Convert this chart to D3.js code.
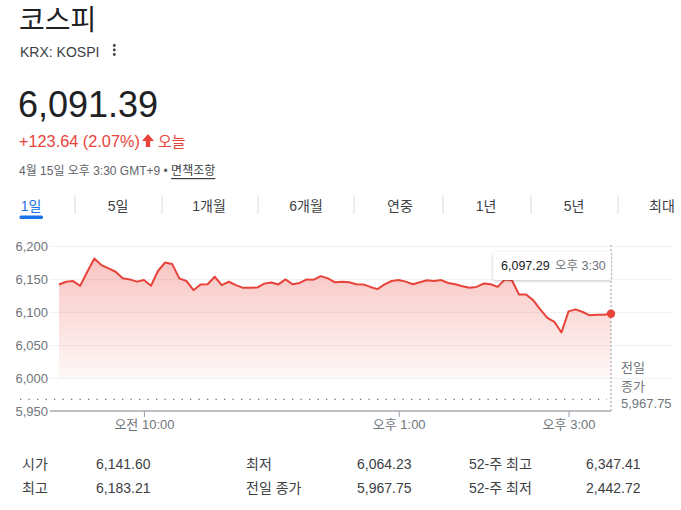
<!DOCTYPE html>
<html>
<head>
<meta charset="utf-8">
<script src="https://cdn.jsdelivr.net/npm/d3@7"></script>
<style>
  body { margin: 0; background: #fff; }
  svg text { font-family: "Liberation Sans", Arial, "Noto Sans CJK KR", sans-serif; }
</style>
</head>
<body>
<script>
// intraday points, every 5 minutes from 9:00 to 15:30
var times = ["09:00","09:05","09:10","09:15","09:20","09:25","09:30","09:35","09:40","09:45","09:50","09:55",
  "10:00","10:05","10:10","10:15","10:20","10:25","10:30","10:35","10:40","10:45","10:50","10:55",
  "11:00","11:05","11:10","11:15","11:20","11:25","11:30","11:35","11:40","11:45","11:50","11:55",
  "12:00","12:05","12:10","12:15","12:20","12:25","12:30","12:35","12:40","12:45","12:50","12:55",
  "13:00","13:05","13:10","13:15","13:20","13:25","13:30","13:35","13:40","13:45","13:50","13:55",
  "14:00","14:05","14:10","14:15","14:20","14:25","14:30","14:35","14:40","14:45","14:50","14:55",
  "15:00","15:05","15:10","15:15","15:20","15:25","15:30"];
var prices = [6141.6, 6145.8, 6146.8, 6139.7, 6161, 6181, 6171, 6166, 6161, 6151, 6149.4, 6146,
  6148.4, 6139.7, 6162.5, 6175, 6172.6, 6151, 6147, 6133, 6141.8, 6142, 6153.4, 6140.7,
  6145.8, 6140.7, 6136.6, 6136.6, 6137, 6143, 6144.8, 6141.8, 6149.4, 6142, 6144, 6149.4,
  6149, 6154.4, 6151, 6145, 6146, 6145, 6142, 6141.8, 6138, 6134.7, 6141.8, 6147,
  6148.4, 6146, 6142, 6145, 6148, 6147, 6148.4, 6144, 6142, 6139, 6136.6, 6138,
  6143, 6142, 6138, 6149.4, 6148, 6126.6, 6126.6, 6118, 6104, 6091, 6085, 6069,
  6101, 6104, 6100, 6095, 6096, 6096, 6097.29];

var yTicks = [5950, 6000, 6050, 6100, 6150, 6200];
var xTicks = ["10:00", "13:00", "15:00"];
var xTickLabels = ["오전 10:00", "오후 1:00", "오후 3:00"];
var prevClose = 5967.75;

var tabs = ["1일", "5일", "1개월", "6개월", "연중", "1년", "5년", "최대"];
var statLabels = [["시가", "최고"], ["최저", "전일 종가"], ["52-주 최고", "52-주 최저"]];
var statValues = [["6,141.60", "6,183.21"], ["6,064.23", "5,967.75"], ["6,347.41", "2,442.72"]];

var red = "#e8433a";
var parseTime = d3.timeParse("%H:%M");
var data = times.map(function(t, i) { return {t: parseTime(t), v: prices[i]}; });

var svg = d3.select("body").append("svg")
    .attr("width", 681)
    .attr("height", 510);

var defs = svg.append("defs");
var grad = defs.append("linearGradient")
    .attr("id", "fillGrad")
    .attr("gradientUnits", "userSpaceOnUse")
    .attr("x1", 0).attr("x2", 0)
    .attr("y1", 255).attr("y2", 395);
grad.append("stop").attr("offset", 0).attr("stop-color", red).attr("stop-opacity", 0.32);
grad.append("stop").attr("offset", 1).attr("stop-color", red).attr("stop-opacity", 0);

var shadow = defs.append("filter").attr("id", "shadow")
    .attr("x", -0.2).attr("y", -0.3).attr("width", 1.4).attr("height", 1.7);
shadow.append("feDropShadow").attr("dx", 0).attr("dy", 1).attr("stdDeviation", 1.5)
    .attr("flood-color", "#000").attr("flood-opacity", 0.25);

// Header
svg.append("text").attr("x", 19).attr("y", 20).attr("dominant-baseline", "central")
    .attr("font-size", 28).attr("fill", "#202124").text("코스피");
svg.append("text").attr("x", 20).attr("y", 52).attr("dominant-baseline", "central")
    .attr("font-size", 14).attr("fill", "#3c4043").text("KRX: KOSPI");
svg.selectAll(".menuDot").data([45.5, 50, 54.5]).enter().append("circle")
    .attr("cx", 114.3).attr("cy", function(d) { return d; }).attr("r", 1.4).attr("fill", "#3c4043");

svg.append("text").attr("x", 18).attr("y", 104).attr("dominant-baseline", "central")
    .attr("font-size", 36).attr("fill", "#202124").text("6,091.39");

svg.append("text").attr("x", 19).attr("y", 141).attr("dominant-baseline", "central")
    .attr("font-size", 16.3).attr("fill", red).text("+123.64 (2.07%)");
svg.append("path")
    .attr("d", "M148,134 L154,141 L150.2,141 L150.2,147 L145.8,147 L145.8,141 L142,141 Z")
    .attr("fill", red);
svg.append("text").attr("x", 158).attr("y", 141).attr("dominant-baseline", "central")
    .attr("font-size", 15).attr("fill", red).text("오늘");

var dateLine = svg.append("text").attr("x", 19).attr("y", 171).attr("dominant-baseline", "central")
    .attr("font-size", 12).attr("fill", "#5f6368");
dateLine.append("tspan").text("4월 15일 오후 3:30 GMT+9 • ");
dateLine.append("tspan").attr("text-decoration", "underline").attr("fill", "#3c4043").text("면책조항");

// Tabs
var tabCenters = [31, 118, 209, 306, 400, 486, 574, 662];
var tabSeps = [75, 162, 258, 354, 443, 531, 618];
svg.selectAll(".tab").data(tabs).enter().append("text")
    .attr("class", "tab")
    .attr("x", function(d, i) { return tabCenters[i]; })
    .attr("y", 206).attr("dominant-baseline", "central")
    .attr("text-anchor", "middle").attr("font-size", 14)
    .attr("fill", function(d, i) { return i === 0 ? "#1a73e8" : "#3c4043"; })
    .text(function(d) { return d; });
svg.selectAll(".tabSep").data(tabSeps).enter().append("line")
    .attr("x1", function(d) { return d; }).attr("x2", function(d) { return d; })
    .attr("y1", 195).attr("y2", 214)
    .attr("stroke", "#dadce0").attr("stroke-width", 1);
svg.append("rect").attr("x", 19.5).attr("y", 215.5).attr("width", 23.5).attr("height", 3.5)
    .attr("rx", 1.5).attr("fill", "#1a73e8");

// Chart scales
var x = d3.scaleTime()
    .domain([parseTime("09:00"), parseTime("15:30")])
    .range([59, 611]);
var y = d3.scaleLinear()
    .domain([5950, 6200])
    .range([411, 246]);

// Gridlines + y labels
var yAxis = d3.axisLeft(y)
    .tickValues(yTicks)
    .tickFormat(d3.format(","))
    .tickSize(-622)
    .tickPadding(2);
var gy = svg.append("g").attr("transform", "translate(50,0)").call(yAxis);
gy.select(".domain").remove();
gy.selectAll(".tick line").attr("stroke", "#f1f1f1");
gy.selectAll(".tick text").attr("font-size", 13).attr("fill", "#70757a")
    .attr("font-family", "'Liberation Sans', Arial, sans-serif");
gy.selectAll(".tick").filter(function(d) { return d === 5950; }).select("line").remove();

// Area + line
var area = d3.area()
    .x(function(d) { return x(d.t); })
    .y0(y(6000))
    .y1(function(d) { return y(d.v); });
svg.append("path").datum(data).attr("d", area).attr("fill", "url(#fillGrad)");

// previous close dotted line
svg.append("line")
    .attr("x1", 20).attr("x2", 607)
    .attr("y1", y(prevClose)).attr("y2", y(prevClose))
    .attr("stroke", "#70757a").attr("stroke-width", 1.2)
    .attr("stroke-dasharray", "1.3,7.2");

var line = d3.line()
    .x(function(d) { return x(d.t); })
    .y(function(d) { return y(d.v); });
svg.append("path").datum(data).attr("d", line)
    .attr("fill", "none").attr("stroke", red).attr("stroke-width", 2)
    .attr("stroke-linejoin", "round");

// x axis
var xAxis = d3.axisBottom(x)
    .tickValues(xTicks.map(parseTime))
    .tickFormat(function(d, i) { return xTickLabels[i]; })
    .tickSize(6)
    .tickPadding(3);
var gx = svg.append("g").attr("transform", "translate(0," + y(5950) + ")").call(xAxis);
gx.select(".domain").attr("d", "M" + (x.range()[0] - 9) + ",0H" + x.range()[1])
    .attr("stroke", "#bdc1c6").attr("stroke-width", 2);
gx.selectAll(".tick line").attr("stroke", "#9aa0a6");
gx.selectAll(".tick text").attr("font-size", 13).attr("fill", "#70757a");

// vertical cursor line
var last = data[data.length - 1];
svg.append("line")
    .attr("x1", x(last.t)).attr("x2", x(last.t))
    .attr("y1", 245).attr("y2", 411)
    .attr("stroke", "#9aa0a6").attr("stroke-width", 1)
    .attr("stroke-dasharray", "2,2");

svg.append("circle").attr("cx", x(last.t)).attr("cy", y(last.v)).attr("r", 4.2).attr("fill", red);

// previous close label
var pcLines = ["전일", "종가", "5,967.75"];
svg.selectAll(".pc").data(pcLines).enter().append("text")
    .attr("x", 621).attr("y", function(d, i) { return [367, 386.5, 403.5][i]; })
    .attr("dominant-baseline", "central").attr("font-size", 13).attr("fill", "#70757a")
    .text(function(d) { return d; });

// tooltip
var tip = svg.append("g");
tip.append("rect").attr("x", 493).attr("y", 252).attr("width", 118).attr("height", 28)
    .attr("rx", 2).attr("fill", "#fff").attr("filter", "url(#shadow)");
tip.append("text").attr("x", 501).attr("y", 266).attr("dominant-baseline", "central")
    .attr("font-size", 12.5).attr("fill", "#202124").text(d3.format(",.2f")(last.v));
tip.append("text").attr("x", 555).attr("y", 266).attr("dominant-baseline", "central")
    .attr("font-size", 12.5).attr("fill", "#70757a").text("오후 3:30");

// stats table
var labelX = [22, 246, 469];
var valueX = [96, 357, 586];
var rowY = [464, 488];
statLabels.forEach(function(col, c) {
    col.forEach(function(lbl, r) {
        svg.append("text").attr("x", labelX[c]).attr("y", rowY[r])
            .attr("dominant-baseline", "central").attr("font-size", 14).attr("fill", "#3c4043")
            .text(lbl);
        svg.append("text").attr("x", valueX[c]).attr("y", rowY[r])
            .attr("dominant-baseline", "central").attr("font-size", 14).attr("fill", "#3c4043")
            .text(statValues[c][r]);
    });
});
</script>
</body>
</html>
